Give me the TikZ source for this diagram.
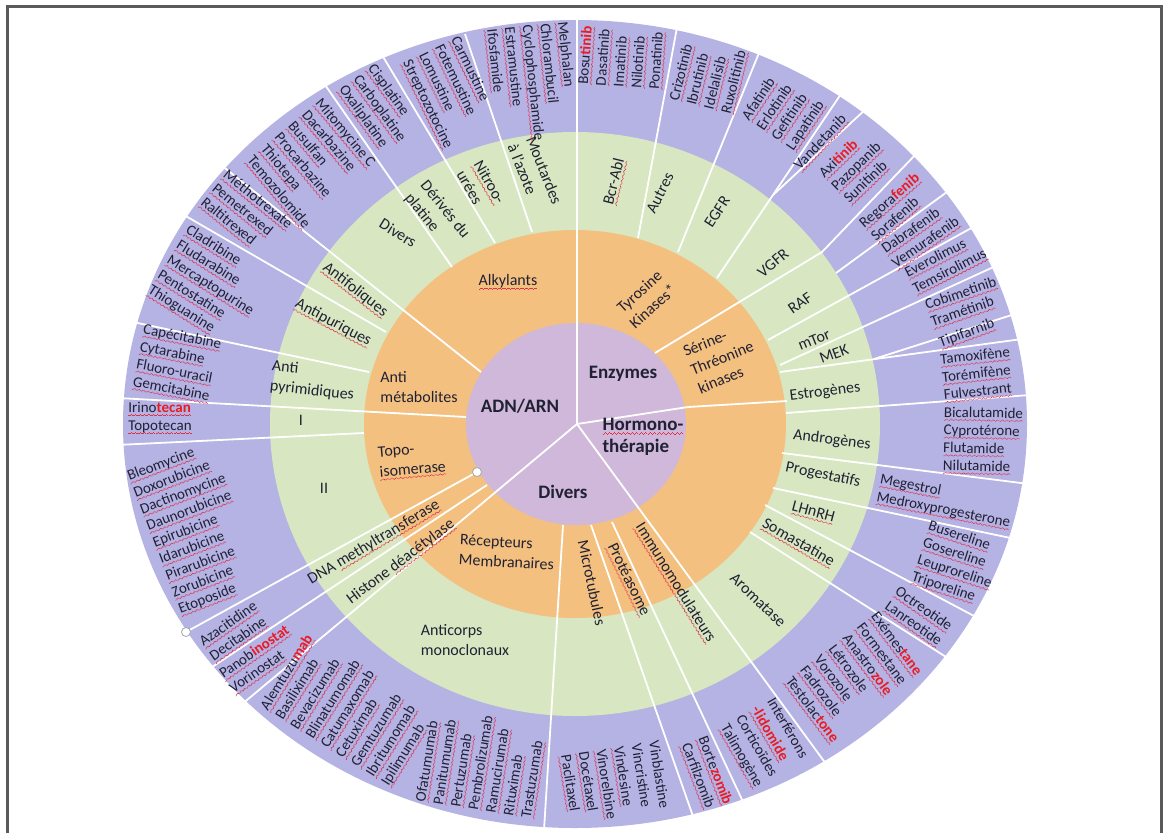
\documentclass[tikz,border=0pt]{standalone}
\usepackage{fontspec}
\setmainfont{Carlito}
\usetikzlibrary{shapes}

\definecolor{ringA}{RGB}{181,178,228}
\definecolor{ringB}{RGB}{216,230,193}
\definecolor{ringC}{RGB}{244,192,128}
\definecolor{ringD}{RGB}{207,184,217}
\definecolor{ink}{RGB}{33,33,52}
\definecolor{hired}{RGB}{232,28,36}
\definecolor{sqred}{RGB}{222,50,70}
\definecolor{framegray}{RGB}{90,90,90}

\newsavebox\sqbox
\newcommand\wavebit{\hbox{\rule[-3.6pt]{1.1pt}{0.6pt}\rule[-3pt]{1.1pt}{0.6pt}\rule[-2.4pt]{1.1pt}{0.6pt}\rule[-3pt]{1.1pt}{0.6pt}}}
\newcommand\sq[1]{\sbox\sqbox{#1}\rlap{\textcolor{sqred}{\hbox to\wd\sqbox{\xleaders\wavebit\hfil}}}\usebox\sqbox}
\newcommand\hl[1]{\textcolor{hired}{\bfseries #1}}

\begin{document}
\begin{tikzpicture}[
  x=1pt,y=-1pt,
  font=\fontsize{15}{17.8}\selectfont,
  every node/.style={inner sep=0pt,text=ink},
  drug/.style={align=left},
  cls/.style={align=left,font=\fontsize{16}{20}\selectfont},
  hub/.style={align=left,font=\fontsize{19}{22}\selectfont\bfseries},
  sep/.style={draw=white,line width=1.8pt},
  handle/.style={circle,draw=gray!70,fill=white,line width=0.8pt,minimum size=9pt}]

  \useasboundingbox (0,0) rectangle (1166,833);
  \draw[framegray,line width=3pt] (7,833) -- (7,6) -- (1161,6) -- (1161,833);

  % Rings
  \fill[ringA] (575,424) ellipse [x radius=452pt, y radius=404pt];
  \fill[ringB] (575,424) ellipse [x radius=305pt, y radius=292pt];
  \fill[ringC] (575,424) ellipse [x radius=211pt, y radius=194pt];
  \fill[ringD] (576,424) ellipse [x radius=110pt, y radius=101pt];

  % Separators
  \draw[sep] (577,424) -- (577,15);
  \draw[sep] (577,424) -- (688,407) -- (787,401);
  \draw[sep] (577,424) -- (829,768);
  \draw[sep] (577,424) -- (241,705);
  \draw[sep] (638,238) -- (678,22);
  \draw[sep] (678,252) -- (761,48);
  \draw[sep] (717,278) -- (843,91);
  \draw[sep] (773,195) -- (867,108);
  \draw[sep] (655,353) -- (822,252) -- (917,153);
  \draw[sep] (836,273) -- (951,189);
  \draw[sep] (768,340) -- (975,226);
  \draw[sep] (780,365) -- (1000,264);
  \draw[sep] (874,359) -- (1018,313);
  \draw[sep] (780,372) -- (1022,339);
  \draw[sep] (786,413) -- (1030,395);
  \draw[sep] (782,453) -- (1029,484);
  \draw[sep] (773,488) -- (1020,540);
  \draw[sep] (765,505) -- (974,616);
  \draw[sep] (750,532) -- (946,657);
  \draw[sep] (612,522) -- (745,806);
  \draw[sep] (591,525) -- (695,822);
  \draw[sep] (563,525) -- (544,830);
  \draw[sep] (487,485) -- (206,671);
  \draw[sep] (364,433) -- (117,445);
  \draw[sep] (466,417) -- (118,398);
  \draw[sep] (369,372) -- (133,322);
  \draw[sep] (386,332) -- (184,215);
  \draw[sep] (481,372) -- (216,161);
  \draw[sep] (452,267) -- (323,82);
  \draw[sep] (495,243) -- (382,55);
  \draw[sep] (532,232) -- (465,34);
  \node[handle] (h1) at (477,472) {};
  \node[handle] (h2) at (186,632) {};
  \draw[sep] (h1) -- (h2);

  % Centre
  \node[hub] (adn) at (520,406) {ADN/ARN};
  \node[hub] (enz) at (623,374) {Enzymes};
  \node[hub] (horm) at (643,437) {\sq{Hormono-}\\thérapie};
  \node[hub] (div) at (563,492) {Divers};

  % Orange ring
  \node[cls] (alk) at (508,282) {\sq{Alkylants}};
  \node[cls] (antimet) at (419,387) {Anti\\métabolites};
  \node[cls,rotate=5] (topo) at (412,461) {Topo-\\\sq{isomerase}};
  \node[cls,rotate=-3] (recep) at (507,552) {Récepteurs\\Membranaires};
  \node[cls,align=center,rotate=42] (tyro) at (646,299) {Tyrosine\\Kinases*};
  \node[cls,rotate=22] (serine) at (722,358) {Sérine-\\Thréonine\\kinases};

  % Green ring
  \node[cls,rotate=76] (bcr) at (615,182) {\sq{Bcr-Abl}};
  \node[cls,rotate=63] (autres) at (660,193) {Autres};
  \node[cls,rotate=57] (egfr) at (717,212) {EGFR};
  \node[cls,rotate=40] (vgfr) at (773,263) {VGFR};
  \node[cls,rotate=35] (raf) at (800,303) {RAF};
  \node[cls,rotate=22] (mtor) at (814,340) {mTor};
  \node[cls,rotate=20] (mek) at (834,354) {MEK};
  \node[cls,rotate=7] (estro) at (825,392) {Estrogènes};
  \node[cls,rotate=-7] (andro) at (832,440) {Androgènes};
  \node[cls,rotate=-12] (proges) at (823,475) {Progestatifs};
  \node[cls,rotate=-15] (lhrh) at (813,513) {\sq{LHnRH}};
  \node[cls,rotate=-30] (soma) at (798,543) {\sq{Somastatine}};
  \node[cls,rotate=-44] (aroma) at (758,600) {Aromatase};
  \node[cls,rotate=-58] (immuno) at (675,583) {\sq{Immunomodulateurs}};
  \node[cls,rotate=-64] (protea) at (628,580) {\sq{Protéasome}};
  \node[cls,rotate=-78] (micro) at (592,583) {Microtubules};
  \node[cls] (antic) at (465,640) {Anticorps\\monoclonaux};
  \node[cls,rotate=37] (hdac) at (401,562) {Histone \sq{déacétylase}};
  \node[cls,rotate=31] (dnmt) at (374,543) {DNA \sq{methyltransferase}};
  \node[cls] (topoII) at (324,488) {II};
  \node[cls] (topoI) at (301,420) {I};
  \node[cls,rotate=-6] (antipyr) at (313,381) {Anti\\pyrimidiques};
  \node[cls,rotate=-28] (antipur) at (333,323) {\sq{Antipuriques}};
  \node[cls,rotate=-38] (antifol) at (355,290) {\sq{Antifoliques}};
  \node[cls,rotate=-32] (divadn) at (398,233) {Divers};
  \node[cls,rotate=-51] (platine) at (437,216) {Dérivés du\\platine};
  \node[cls,rotate=-60] (nitro) at (481,187) {\sq{Nitroo-}\\urées};
  \node[cls,rotate=-68] (moutarde) at (535,174) {Moutardes\\à l'azote};

  % Outer ring
  \node[drug,rotate=86] (bosu) at (622,58) {\sq{Bosu\hl{tinib}}\\\sq{Dasatinib}\\\sq{Imatinib}\\\sq{Nilotinib}\\\sq{Ponatinib}};
  \node[drug,rotate=76] (crizo) at (709,76) {\sq{Crizotinib}\\\sq{Ibrutinib}\\\sq{Idelalisib}\\\sq{Ruxolitinib}};
  \node[drug,rotate=56] (afati) at (784,111) {\sq{Afatinib}\\\sq{Erlotinib}\\\sq{Gefitinib}\\\sq{Lapatinib}};
  \node[drug,rotate=47] (vande) at (821,143) {\sq{Vandetanib}};
  \node[drug,rotate=44] (axiti) at (857,167) {\sq{Axi\hl{tinib}}\\\sq{Pazopanib}\\\sq{Sunitinib}};
  \node[drug,rotate=41] (regora) at (896,208) {\sq{Regora\hl{fenib}}\\\sq{Sorafenib}};
  \node[drug,rotate=35] (dabra) at (921,236) {\sq{Dabrafenib}\\\sq{Vemurafenib}};
  \node[drug,rotate=27] (evero) at (946,264) {\sq{Everolimus}\\\sq{Temsirolimus}};
  \node[drug,rotate=19] (cobi) at (964,303) {\sq{Cobimetinib}\\\sq{Tramétinib}};
  \node[drug,rotate=20] (tipi) at (967,334) {\sq{Tipifarnib}};
  \node[drug,rotate=6] (tamox) at (977,375) {\sq{Tamoxifène}\\\sq{Torémifène}\\\sq{Fulvestrant}};
  \node[drug,rotate=-1] (bical) at (983,441) {\sq{Bicalutamide}\\\sq{Cyprotérone}\\\sq{Flutamide}\\\sq{Nilutamide}};
  \node[drug,rotate=-11] (meges) at (945,502) {\sq{Megestrol}\\\sq{Medroxyprogesterone}};
  \node[drug,rotate=-18] (buser) at (957,564) {\sq{Busereline}\\\sq{Gosereline}\\\sq{Leuproreline}\\\sq{Triporeline}};
  \node[drug,rotate=-35] (octreo) at (918,617) {\sq{Octreotide}\\\sq{Lanreotide}};
  \node[drug,rotate=-53] (exeme) at (854,678) {\sq{Exémes\hl{tane}}\\\sq{Formestane}\\\sq{Anastro\hl{zole}}\\\sq{Létrozole}\\\sq{Vorozole}\\\sq{Fadrozole}\\\sq{Testolac\hl{tone}}};
  \node[drug,rotate=-60] (inter) at (764,743) {Interférons\\\sq{\hl{-lidomide}}\\Corticoïdes\\\sq{Talimogène}};
  \node[drug,rotate=-69] (borte) at (706,774) {\sq{Borte\hl{zomib}}\\\sq{Carfilzomib}};
  \node[drug,rotate=-81] (vinbl) at (614,783) {Vinblastine\\Vincristine\\\sq{Vindesine}\\\sq{Vinorelbine}\\\sq{Docétaxel}\\\sq{Paclitaxel}};
  \node[drug,rotate=81] (ofatu) at (482,763) {\sq{Ofatumumab}\\\sq{Panitumumab}\\\sq{Pertuzumab}\\\sq{Pembrolizumab}\\\sq{Ramucirumab}\\\sq{Rituximab}\\\sq{Trastuzumab}};
  \node[drug,rotate=58] (alemt) at (349,709) {\sq{Alemtuzu\hl{mab}}\\\sq{Basiliximab}\\\sq{Bevacizumab}\\\sq{Blinatumomab}\\\sq{Catumaxomab}\\\sq{Cetuximab}\\\sq{Gemtuzumab}\\\sq{Ibritumomab}\\\sq{Ipilimumab}};
  \node[drug,rotate=35] (panob) at (260,660) {\sq{Panob\hl{inostat}}\\\sq{Vorinostat}};
  \node[drug,rotate=35] (azaci) at (234,632) {\sq{Azacitidine}\\\sq{Decitabine}};
  \node[drug,rotate=21] (bleo) at (196,528) {\sq{Bleomycine}\\\sq{Doxorubicine}\\\sq{Dactinomycine}\\\sq{Daunorubicine}\\\sq{Epirubicine}\\\sq{Idarubicine}\\\sq{Pirarubicine}\\\sq{Zorubicine}\\\sq{Etoposide}};
  \node[drug] (irino) at (160,418) {\sq{Irino\hl{tecan}}\\\sq{Topotecan}};
  \node[drug,rotate=-11] (capec) at (177,364) {\sq{Capécitabine}\\\sq{Cytarabine}\\\sq{Fluoro-uracil}\\\sq{Gemcitabine}};
  \node[drug,rotate=-32] (cladr) at (210,286) {\sq{Cladribine}\\\sq{Fludarabine}\\\sq{Mercaptopurine}\\\sq{Pentostatine}\\\sq{Thioguanine}};
  \node[drug,rotate=-39] (metho) at (246,214) {\sq{Méthotrexate}\\\sq{Pemetrexed}\\\sq{Raltitrexed}};
  \node[drug,rotate=-50] (mitom) at (312,164) {\sq{Mitomycine C}\\\sq{Dacarbazine}\\\sq{Busulfan}\\\sq{Procarbazine}\\\sq{Thiotepa}\\\sq{Temozolomide}};
  \node[drug,rotate=-54] (cispl) at (379,109) {\sq{Cisplatine}\\\sq{Carboplatine}\\\sq{Oxaliplatine}};
  \node[drug,rotate=-64] (carmu) at (451,93) {\sq{Carmustine}\\\sq{Fotemustine}\\\sq{Lomustine}\\\sq{Streptozotocine}};
  \node[drug,rotate=-84] (melph) at (532,83) {\sq{Melphalan}\\\sq{Chlorambucil}\\\sq{Cyclophosphamide}\\\sq{Estramustine}\\\sq{Ifosfamide}};

\end{tikzpicture}
\end{document}
